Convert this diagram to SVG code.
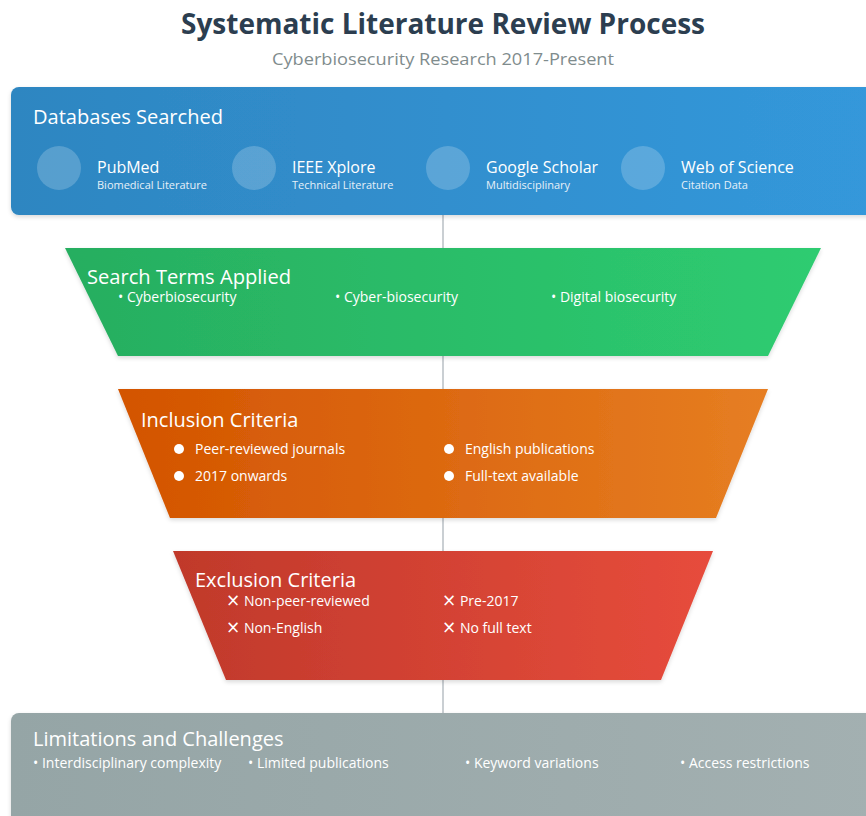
<svg xmlns="http://www.w3.org/2000/svg" width="866" height="816" viewBox="0 0 866 816">
  <defs>
    <linearGradient id="gBlue" x1="0" y1="0" x2="1" y2="0">
      <stop offset="0" stop-color="#2e86c1"/>
      <stop offset="1" stop-color="#3498db"/>
    </linearGradient>
    <linearGradient id="gGreen" x1="0" y1="0" x2="1" y2="0">
      <stop offset="0" stop-color="#27ae60"/>
      <stop offset="1" stop-color="#2ecc71"/>
    </linearGradient>
    <linearGradient id="gOrange" x1="0" y1="0" x2="1" y2="0">
      <stop offset="0" stop-color="#d35400"/>
      <stop offset="1" stop-color="#e67e22"/>
    </linearGradient>
    <linearGradient id="gRed" x1="0" y1="0" x2="1" y2="0">
      <stop offset="0" stop-color="#c0392b"/>
      <stop offset="1" stop-color="#e74c3c"/>
    </linearGradient>
    <linearGradient id="gGray" x1="0" y1="0" x2="1" y2="0">
      <stop offset="0" stop-color="#95a5a6"/>
      <stop offset="1" stop-color="#a3b0b1"/>
    </linearGradient>
    <filter id="shadow" x="-5%" y="-10%" width="110%" height="130%">
      <feDropShadow dx="0" dy="2" stdDeviation="2" flood-color="#000" flood-opacity="0.15"/>
    </filter>
  </defs>
  <style>
    text { font-family: "Open Sans", "Noto Sans", "Liberation Sans", sans-serif; fill: #ffffff; }
    .title { font-size: 28px; font-weight: 700; fill: #2c3e50; }
    .subtitle { font-size: 16px; fill: #7f8c8d; }
    .head { font-size: 20px; }
    .dbname { font-size: 16px; }
    .dbsub { font-size: 11px; fill: #e6f0f8; }
    .item { font-size: 14px; }
    .x { font-family: "DejaVu Sans", sans-serif; font-size: 17px; }
    .dot { fill: #ffffff; opacity: 0.2; }
    .bullet { fill: #ffffff; }
    .connector { stroke: #b8bfc4; stroke-width: 1.5; fill: none; }
  </style>

  <rect width="866" height="816" fill="#ffffff"/>

  <text class="title" x="443" y="34" text-anchor="middle" textLength="524" lengthAdjust="spacingAndGlyphs">Systematic Literature Review Process</text>
  <text class="subtitle" x="443" y="65" text-anchor="middle" textLength="342" lengthAdjust="spacingAndGlyphs">Cyberbiosecurity Research 2017-Present</text>

  <g id="connectors">
    <line class="connector" x1="443" y1="215" x2="443" y2="713"/>
  </g>

  <g id="databases">
    <rect x="11" y="87" width="870" height="128" rx="8" fill="url(#gBlue)" filter="url(#shadow)"/>
    <text class="head" x="33" y="124" textLength="190" lengthAdjust="spacingAndGlyphs">Databases Searched</text>
    <circle class="dot" cx="59" cy="168" r="22"/>
    <text class="dbname" x="97" y="173">PubMed</text>
    <text class="dbsub" x="97" y="189">Biomedical Literature</text>
    <circle class="dot" cx="254" cy="168" r="22"/>
    <text class="dbname" x="292" y="173">IEEE Xplore</text>
    <text class="dbsub" x="292" y="189">Technical Literature</text>
    <circle class="dot" cx="448" cy="168" r="22"/>
    <text class="dbname" x="486" y="173">Google Scholar</text>
    <text class="dbsub" x="486" y="189">Multidisciplinary</text>
    <circle class="dot" cx="643" cy="168" r="22"/>
    <text class="dbname" x="681" y="173">Web of Science</text>
    <text class="dbsub" x="681" y="189">Citation Data</text>
  </g>

  <g id="search-terms">
    <polygon points="65,248 821,248 768,356 118,356" fill="url(#gGreen)" filter="url(#shadow)"/>
    <text class="head" x="87" y="284" textLength="204" lengthAdjust="spacingAndGlyphs">Search Terms Applied</text>
    <text class="item" x="118" y="302">• Cyberbiosecurity</text>
    <text class="item" x="335" y="302">• Cyber-biosecurity</text>
    <text class="item" x="551" y="302">• Digital biosecurity</text>
  </g>

  <g id="inclusion">
    <polygon points="118,389 768,389 716,518 170,518" fill="url(#gOrange)" filter="url(#shadow)"/>
    <text class="head" x="141" y="427">Inclusion Criteria</text>
    <circle class="bullet" cx="179" cy="449" r="5"/>
    <text class="item" x="195" y="454">Peer-reviewed journals</text>
    <circle class="bullet" cx="179" cy="476" r="5"/>
    <text class="item" x="195" y="481">2017 onwards</text>
    <circle class="bullet" cx="449" cy="449" r="5"/>
    <text class="item" x="465" y="454">English publications</text>
    <circle class="bullet" cx="449" cy="476" r="5"/>
    <text class="item" x="465" y="481">Full-text available</text>
  </g>

  <g id="exclusion">
    <polygon points="173,551 713,551 661,680 226,680" fill="url(#gRed)" filter="url(#shadow)"/>
    <text class="head" x="195" y="587">Exclusion Criteria</text>
    <text class="item" x="226" y="606"><tspan class="x">×</tspan> Non-peer-reviewed</text>
    <text class="item" x="226" y="633"><tspan class="x">×</tspan> Non-English</text>
    <text class="item" x="442" y="606"><tspan class="x">×</tspan> Pre-2017</text>
    <text class="item" x="442" y="633"><tspan class="x">×</tspan> No full text</text>
  </g>

  <g id="limitations">
    <rect x="11" y="713" width="870" height="120" rx="8" fill="url(#gGray)" filter="url(#shadow)"/>
    <text class="head" x="33" y="746">Limitations and Challenges</text>
    <text class="item" x="33" y="768">• Interdisciplinary complexity</text>
    <text class="item" x="248" y="768">• Limited publications</text>
    <text class="item" x="465" y="768">• Keyword variations</text>
    <text class="item" x="680" y="768">• Access restrictions</text>
  </g>
</svg>
